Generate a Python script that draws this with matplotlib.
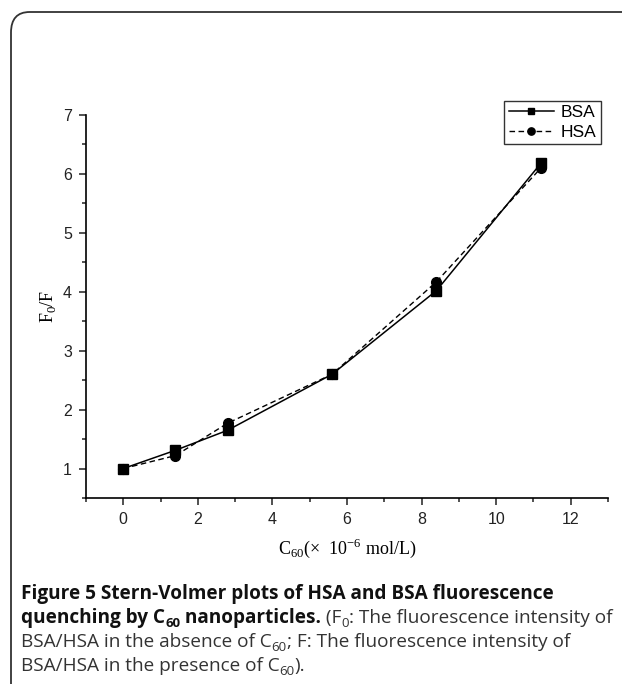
import matplotlib
matplotlib.use("Agg")
import matplotlib.pyplot as plt
from matplotlib.patches import FancyBboxPatch
from matplotlib.ticker import MultipleLocator

conc = [0, 1.4, 2.8, 5.6, 8.4, 11.2]
bsa = [1.0, 1.31, 1.65, 2.6, 4.02, 6.18]
hsa = [1.0, 1.22, 1.77, 2.6, 4.17, 6.1]

plt.rcParams["mathtext.fontset"] = "custom"
plt.rcParams["mathtext.rm"] = "Liberation Serif"

W, H = 622, 684
fig = plt.figure(figsize=(W / 100, H / 100), dpi=100)

# rounded frame round the figure + caption
frame = FancyBboxPatch((11 / W, -0.05), 1.2, 1 - 12 / H + 0.05,
                       boxstyle="round,pad=0,rounding_size=0.03",
                       transform=fig.transFigure, fill=False,
                       edgecolor="#333333", linewidth=1.3, clip_on=False)
fig.patches.append(frame)

ax = fig.add_axes([86 / W, 1 - 498 / H, (608 - 86) / W, (498 - 115) / H])
ax.plot(conc, bsa, "k-", marker="s", markersize=6.5, linewidth=1.1, label="BSA")
ax.plot(conc, hsa, "k--", marker="o", markersize=7, linewidth=1.0,
        dashes=(4, 2.5), label="HSA")

ax.set_xlim(-1, 13)
ax.set_ylim(0.5, 7)
ax.xaxis.set_major_locator(MultipleLocator(2))
ax.xaxis.set_minor_locator(MultipleLocator(1))
ax.yaxis.set_major_locator(MultipleLocator(1))
ax.yaxis.set_minor_locator(MultipleLocator(0.5))
for s in ("top", "right"):
    ax.spines[s].set_visible(False)
for s in ("left", "bottom"):
    ax.spines[s].set_linewidth(1.2)
ax.tick_params(which="both", direction="out", width=1.1, labelsize=11.5,
               colors="#222222")
ax.tick_params(which="major", length=5, pad=5)
ax.tick_params(which="minor", length=3)
for lab in ax.get_xticklabels() + ax.get_yticklabels():
    lab.set_fontfamily("Liberation Sans")

ax.set_xlabel(r"C$_{60}$(×  10$^{-6}$ mol/L)", family="Liberation Serif",
              fontsize=13, labelpad=7)
ax.set_ylabel(r"F$_0$/F", family="Liberation Serif", fontsize=13, labelpad=4)

leg = ax.legend(loc="upper right", bbox_to_anchor=(601 / W, 1 - 101 / H),
                bbox_transform=fig.transFigure, fancybox=False,
                edgecolor="#333333", framealpha=1, markerscale=0.75,
                prop={"family": "Liberation Sans", "size": 12.5},
                handlelength=2.6, handletextpad=0.4, borderpad=0.25,
                labelspacing=0.25, borderaxespad=0)
leg.get_frame().set_linewidth(1.0)

# caption, drawn run by run so bold/regular and subscripts can mix
fig.canvas.draw()
renderer = fig.canvas.get_renderer()
cap_family = "Open Sans"
cap_size = 13.7

def run_line(runs, x_px, y_px):
    x = x_px
    for txt, bold, sub in runs:
        size = cap_size * (0.7 if sub else 1.0)
        yy = y_px + (4 if sub else 0)
        t = fig.text(x / W, 1 - yy / H, txt, family=cap_family, fontsize=size,
                     fontweight="bold" if bold else "normal",
                     va="baseline", ha="left",
                     color="#111111" if bold else "#333333")
        bb = t.get_window_extent(renderer)
        x += bb.width

lines = [
    [("Figure 5 Stern-Volmer plots of HSA and BSA fluorescence", True, False)],
    [("quenching by C", True, False), ("60", True, True),
     (" nanoparticles.", True, False), (" (F", False, False), ("0", False, True),
     (": The fluorescence intensity of", False, False)],
    [("BSA/HSA in the absence of C", False, False), ("60", False, True),
     ("; F: The fluorescence intensity of", False, False)],
    [("BSA/HSA in the presence of C", False, False), ("60", False, True),
     (").", False, False)],
]
for i, runs in enumerate(lines):
    run_line(runs, 21, 599 + i * 24)

fig.savefig("out.png", dpi=100)
